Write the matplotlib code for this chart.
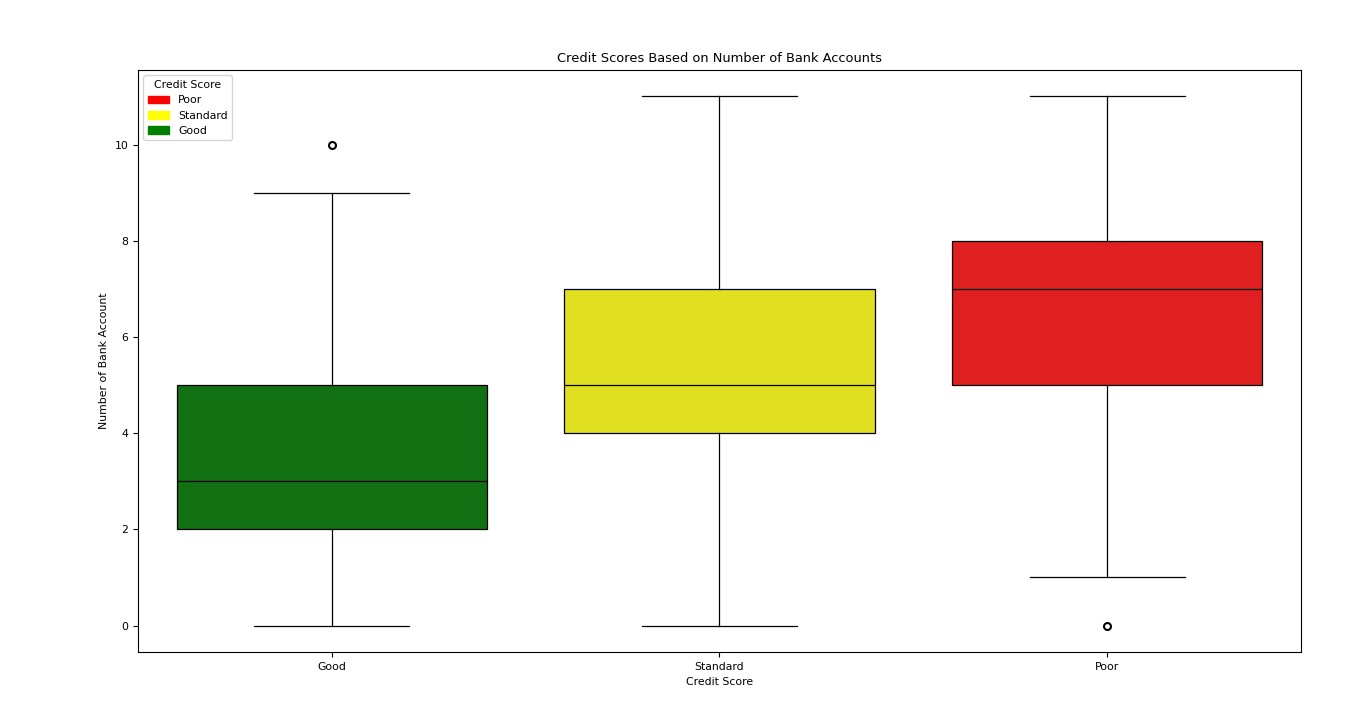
import matplotlib
matplotlib.use("Agg")
import matplotlib.pyplot as plt
import matplotlib.patches as mpatches

# box statistics
categories = ["Good", "Standard", "Poor"]
whislo = [0, 0, 1]
q1 = [2, 4, 5]
med = [3, 5, 7]
q3 = [5, 7, 8]
whishi = [9, 11, 11]
fliers = [[10], [], [0]]
box_colors = ["#117011", "#e0e020", "#e02020"]

legend_labels = ["Poor", "Standard", "Good"]
legend_colors = ["red", "yellow", "green"]

plt.rcParams["font.size"] = 7.8

stats = []
for i in range(len(categories)):
    stats.append(dict(label=categories[i], whislo=whislo[i], q1=q1[i], med=med[i],
                      q3=q3[i], whishi=whishi[i], fliers=fliers[i]))

fig = plt.figure(figsize=(13.58, 7.05), dpi=100)
ax = fig.add_axes([0.1016, 0.0752, 0.8564, 0.8255])

bp = ax.bxp(stats, positions=range(len(categories)), widths=0.8, patch_artist=True,
            capwidths=0.4,
            boxprops=dict(edgecolor="black", linewidth=0.9),
            medianprops=dict(color="black", linewidth=0.9),
            whiskerprops=dict(color="black", linewidth=0.9),
            capprops=dict(color="black", linewidth=0.9),
            flierprops=dict(marker="o", markerfacecolor="none", markeredgecolor="black",
                            markersize=5, markeredgewidth=1.5))
for patch, c in zip(bp["boxes"], box_colors):
    patch.set_facecolor(c)

ax.set_xlim(-0.5, 2.5)
ax.set_ylim(-0.55, 11.55)
ax.set_xticks(range(len(categories)))
ax.set_xticklabels(categories)
ax.set_xlabel("Credit Score")
ax.set_ylabel("Number of Bank Account")
ax.set_title("Credit Scores Based on Number of Bank Accounts")

handles = [mpatches.Patch(color=c, label=l) for l, c in zip(legend_labels, legend_colors)]
ax.legend(handles=handles, title="Credit Score", loc="upper left")

fig.savefig("out.png", dpi=100)
